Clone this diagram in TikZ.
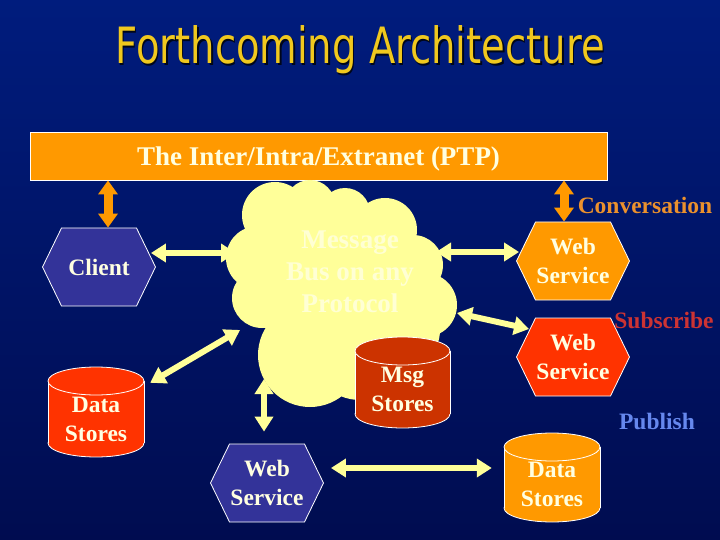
\documentclass[tikz,border=0pt]{standalone}
\usepackage{fontspec}
\setmainfont{Liberation Serif}
\newfontfamily\titlefont{DejaVu Sans}
\usetikzlibrary{arrows.meta,shapes.symbols,calc}
\definecolor{bgtop}{RGB}{0,28,125}
\definecolor{bgbot}{RGB}{0,12,80}
\definecolor{orng}{RGB}{255,153,0}
\definecolor{redf}{RGB}{255,51,0}
\definecolor{msgf}{RGB}{204,51,0}
\definecolor{purp}{RGB}{51,51,153}
\definecolor{ylw}{RGB}{255,255,153}
\definecolor{cream}{RGB}{255,255,225}
\definecolor{cloudtxt}{RGB}{255,255,212}
\definecolor{titlecol}{RGB}{240,200,30}
\definecolor{convcol}{RGB}{235,145,45}
\definecolor{subcol}{RGB}{204,51,51}
\definecolor{pubcol}{RGB}{102,136,238}
\newcommand{\dbcyl}[7]{% name, cx, top, w, h, fill, text
  \pgfmathsetmacro\dbL{#2-#4/2}\pgfmathsetmacro\dbR{#2+#4/2}%
  \pgfmathsetmacro\dbT{#3+14}\pgfmathsetmacro\dbB{#3+#5-14}%
  \filldraw[fill=#6,draw=white,line width=0.8pt] (#2,\dbB) ellipse [x radius=#4/2, y radius=14];
  \fill[#6] (\dbL,\dbT) rectangle (\dbR,\dbB);
  \draw[white,line width=0.8pt] (\dbL,\dbT) -- (\dbL,\dbB) (\dbR,\dbT) -- (\dbR,\dbB);
  \filldraw[fill=#6,draw=white,line width=0.8pt] (#2,\dbT) ellipse [x radius=#4/2, y radius=14];
  \node[minimum width=#4pt, minimum height=#5pt, inner sep=0pt] (#1) at (#2,{#3+#5/2}) {};
  \node[shapetext] at ($(#1.center)+(0,7)$) {#7};
}
\begin{document}
\begin{tikzpicture}[x=1pt,y=-1pt,
  shapetext/.style={text=cream, font=\bfseries\fontsize{23.5}{29}\selectfont, align=center, inner sep=0pt},
  hexa/.style={signal, signal to=east and west, signal pointer angle=128,
    minimum width=113pt, minimum height=78pt, draw=white, line width=0.8pt, inner sep=0pt,
    text=cream, font=\bfseries\fontsize{23.5}{29}\selectfont, align=center},
  lbl/.style={font=\bfseries\fontsize{23.5}{29}\selectfont, inner sep=0pt},
  yarrow/.style={draw=ylw, line width=6pt, {Triangle[length=15pt,width=18pt]}-{Triangle[length=15pt,width=18pt]}},
  oarrow/.style={draw=orng, line width=9pt, {Triangle[length=14pt,width=19pt]}-{Triangle[length=14pt,width=19pt]}}
]
\fill[top color=bgtop, bottom color=bgbot] (0,0) rectangle (720,540);
\useasboundingbox (0,0) rectangle (720,540);

% title
\node[anchor=base, text=black!80!bgtop] at (361.5,65.5) {\titlefont\fontsize{50}{60}\selectfont\scalebox{0.77}[1]{Forthcoming Architecture}};
\node[anchor=base, text=titlecol] (title) at (360,64) {\titlefont\fontsize{50}{60}\selectfont\scalebox{0.77}[1]{Forthcoming Architecture}};

% bar
\node[draw=white, line width=0.8pt, fill=orng, minimum width=577pt, minimum height=48pt] (bar) at (318.5,156) {};
\node[text=cream, font=\bfseries\fontsize{27}{32}\selectfont, inner sep=0pt] at ($(bar.center)+(0,3)$) {The Inter/Intra/Extranet (PTP)};

% cloud
\fill[ylw]
  (275,215) circle[radius=33]
  (310,205) circle[radius=25]
  (345,213) circle[radius=25]
  (385,230) circle[radius=32]
  (413,265) circle[radius=30]
  (425,305) circle[radius=32]
  (258,258) circle[radius=32]
  (262,298) circle[radius=30]
  (310,355) circle[radius=52]
  (360,350) circle[radius=50]
  (400,330) circle[radius=40]
  (340,280) circle[radius=80];
\node[text=cloudtxt, font=\bfseries\fontsize{27}{32}\selectfont, align=center] (cloud) at (350,272) {Message\\Bus on any\\Protocol};
\coordinate (cW) at (236,253);
\coordinate (cE) at (436,252);
\coordinate (cSE) at (457,313);
\coordinate (cSW) at (240,330);
\coordinate (cS) at (264,379);

% cylinders
\dbcyl{msg}{402.5}{337}{95}{91}{msgf}{Msg\\Stores}
\dbcyl{ds1}{96}{367}{96}{90}{redf}{Data\\Stores}
\dbcyl{ds2}{552}{433}{96}{89}{orng}{Data\\Stores}

% hexagons
\node[hexa, fill=purp] (client) at (99,267) {Client};
\node[hexa, fill=orng] (ws1) at (573,261) {Web\\Service};
\node[hexa, fill=redf] (ws2) at (573,357) {Web\\Service};
\node[hexa, fill=purp] (ws3) at (267,483) {Web\\Service};

% labels
\node[lbl, text=convcol] (conv) at (645,205) {Conversation};
\node[lbl, text=subcol] (subs) at (664,320) {Subscribe};
\node[lbl, text=pubcol] (pub) at (657,421) {Publish};

% orange arrows
\coordinate (cA) at ([xshift=9pt]client.north);
\coordinate (cB) at ([xshift=-9pt]ws1.north);
\draw[oarrow] (bar.south -| cA) -- (cA);
\draw[oarrow] (bar.south -| cB) -- (cB);

% yellow arrows
\draw[yarrow] ($(cW -| client.east)+(-5,0)$) -- (cW);
\draw[yarrow] (cE) -- ($(cE -| ws1.west)+(3,0)$);
\draw[yarrow] (cSE) -- ($(ws2.west)+(13,-28)$);
\draw[yarrow] ($(ds1.north east)+(6,16)$) -- (cSW);
\draw[yarrow] (cS) -- ($(cS |- ws3.north)+(0,-12)$);
\draw[yarrow] ($(ws3.east)+(7,-15)$) -- ($(ws3.east -| ds2.west)+(-12,-15)$);
\end{tikzpicture}
\end{document}
